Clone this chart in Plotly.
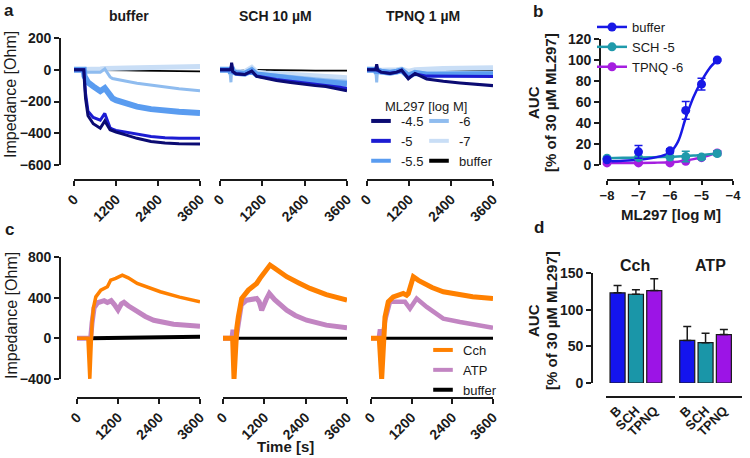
import plotly.graph_objects as go

W, H = 750, 458
FONT = "Liberation Sans, Arial, Helvetica, sans-serif"
INK = "#1a1a1a"


def px(x):
    return x / W


def py(y):
    return 1 - y / H


# ---------------- panel a : impedance traces (ML297 concentrations) ----------------
A_LEVELS = ["-4.5", "-5", "-5.5", "-6", "-7", "buffer"]
A_COLORS = ["#0b0b72", "#1c1cd2", "#5a9cf0", "#8fbcef", "#c9def6", "#000000"]
A_WIDTHS = [3, 3, 6, 3, 5, 1.8]
A_TITLES = ["buffer", "SCH 10 µM", "TPNQ 1 µM"]

T_A1 = [0, 280, 300, 330, 400, 550, 750, 880, 1030, 1100, 1200, 1500, 1800, 2200, 2600, 3000, 3600]
A1_M45 = [0, 0, -80, -180, -290, -340, -368, -322, -378, -385, -392, -412, -432, -452, -462, -466, -468]
A1_M5 = [0, 0, -60, -150, -262, -300, -318, -275, -365, -375, -382, -392, -405, -420, -428, -432, -432]
A1_M55 = [0, 0, -40, -60, -80, -105, -135, -115, -170, -180, -192, -215, -232, -248, -258, -265, -272]
A1_M6 = [0, 0, -5, -10, -15, -15, -15, 5, -45, -55, -60, -72, -85, -98, -110, -120, -132]
A1_M7 = [0, 0, 2, 3, 3, 4, 5, 8, 6, 8, 9, 11, 13, 15, 17, 18, 20]
A1_BUF = [0, 0, 0, 0, -1, -1, -2, -2, -2, -3, -3, -4, -5, -6, -7, -8, -10]

T_A2 = [0, 280, 310, 330, 360, 450, 700, 900, 1040, 1300, 1600, 2000, 2300, 2700, 3000, 3400, 3600]
A2_M45 = [0, 0, 5, 45, -10, -25, -30, -8, -42, -55, -68, -80, -90, -100, -106, -122, -132]
A2_M5 = [0, 0, 5, 35, -12, -25, -30, -10, -40, -50, -62, -72, -80, -90, -96, -110, -118]
A2_M55 = [0, 0, -20, 15, -10, -20, -25, -5, -30, -38, -45, -55, -63, -72, -78, -86, -90]
A2_M6 = [0, 0, -79, 10, -8, -15, -18, 10, -22, -28, -35, -43, -50, -58, -63, -70, -73]
A2_M7 = [0, 0, -30, 5, -5, -10, -12, 15, -15, -20, -25, -30, -35, -40, -44, -48, -50]
A2_BUF = [0, 0, 0, 0, 0, -2, -3, -3, -3, -3, -4, -4, -4, -5, -5, -5, -5]

T_A3 = [0, 250, 277, 300, 400, 657, 850, 990, 1180, 1371, 1705, 2181, 2657, 3133, 3600]
A3_M45 = [0, 0, 35, 0, -15, -23, -15, -2, -58, -23, -58, -73, -83, -90, -100]
A3_M5 = [0, 0, 25, -5, -15, -22, -15, -5, -50, -25, -40, -40, -42, -42, -42]
A3_M55 = [0, 0, -20, -5, -12, -18, -12, -3, -40, -20, -32, -32, -32, -31, -30]
A3_M6 = [0, 0, -79, -3, -8, -12, -8, 0, -25, -12, -20, -18, -17, -16, -15]
A3_M7 = [0, 0, -30, 0, -3, -5, 0, 5, -10, 0, 5, 8, 10, 10, 12]
A3_BUF = [0, 0, 0, 0, 0, -2, -2, -2, -3, -3, -3, -4, -4, -4, -4]

# ---------------- panel c : Cch / ATP / buffer traces ----------------
C_LEVELS = ["Cch", "ATP", "buffer"]
C_COLORS = ["#ff8000", "#c285c2", "#000000"]

T_C1_CCH = [0, 320, 375, 405, 440, 480, 551, 697, 890, 987, 1132, 1326, 1500, 1762, 2100, 2438, 3000, 3600]
C1_CCH = [0, 0, -398, -100, 150, 300, 408, 474, 507, 573, 590, 622, 595, 540, 495, 458, 405, 359]
T_C1_ATP = [0, 400, 440, 500, 600, 648, 794, 890, 1000, 1100, 1200, 1300, 1374, 1500, 1762, 2000, 2245, 2826, 3600]
C1_ATP = [0, 0, 150, 300, 350, 355, 370, 352, 370, 330, 280, 340, 355, 320, 260, 215, 178, 138, 119]
T_C1_BUF = [380, 1200, 2400, 3600]
C1_BUF = [0, 3, 8, 15]

T_C2_CCH = [0, 280, 320, 350, 400, 445, 542, 736, 977, 1074, 1200, 1365, 1500, 1849, 2200, 2526, 3000, 3600]
C2_CCH = [0, 0, -398, -150, 100, 210, 392, 474, 540, 590, 650, 721, 690, 606, 545, 491, 430, 375]
T_C2_ATP = [0, 260, 290, 320, 380, 445, 530, 687, 977, 1050, 1123, 1250, 1345, 1500, 1849, 2100, 2429, 3000, 3600]
C2_ATP = [0, 0, 83, 0, 0, 150, 330, 375, 392, 360, 277, 380, 441, 380, 277, 225, 178, 130, 105]
T_C2_BUF = [380, 3600]
C2_BUF = [0, 0]

T_C3_CCH = [0, 245, 315, 350, 413, 510, 658, 953, 1052, 1100, 1249, 1400, 1544, 1800, 2134, 2600, 3000, 3600]
C3_CCH = [0, 0, -398, -100, 210, 359, 408, 441, 425, 440, 606, 570, 540, 500, 458, 430, 410, 392]
T_C3_ATP = [0, 230, 265, 300, 340, 420, 560, 1003, 1150, 1347, 1642, 2134, 2626, 3100, 3600]
C3_ATP = [0, 0, 90, 0, 0, 180, 359, 359, 293, 392, 309, 194, 161, 130, 105]
T_C3_BUF = [380, 3600]
C3_BUF = [0, 0]

# ---------------- panel b : concentration-response ----------------
B_X = [-8, -7, -6, -5.5, -5, -4.5]
B_BUF = [5, 12.5, 13.5, 52, 77, 100]
B_BUF_ERR = [1, 6, 2, 8.5, 5.5, 1]
B_SCH = [6.5, 7, 7.5, 8, 7.5, 11]
B_SCH_ERR = [1, 1, 1, 5, 2, 2]
B_TPNQ = [2, 2, 2, 3.5, 7, 11.5]
B_TPNQ_ERR = [0.5, 1, 1, 1, 1, 2]
B_FIT_X = [-8, -7.5, -7, -6.5, -6, -5.75, -5.5, -5.25, -5, -4.75, -4.5]
B_BUF_FIT = [3.5, 4, 5, 7, 12, 22, 45, 65, 80, 92, 100]
B_SCH_FIT = [6.5, 6.8, 7.1, 7.4, 7.8, 8.1, 8.5, 9, 9.5, 10.2, 11]
B_TPNQ_FIT = [2, 2, 2, 2.2, 2.6, 3.2, 4.2, 5.6, 7.3, 9.3, 11.5]
B_NAMES = ["buffer", "SCH -5", "TPNQ -6"]
B_COLORS = ["#1818e6", "#1f9aab", "#a51ee0"]

# ---------------- panel d : AUC bars ----------------
D_LABELS = ["B", "SCH", "TPNQ"]
D_COLORS = ["#1414ee", "#1a96a8", "#9c14e6"]
D_CCH = [123, 121, 126]
D_CCH_ERR = [10, 6, 16]
D_ATP = [58, 55, 66]
D_ATP_ERR = [19, 13, 7]

fig = go.Figure()
layout = {}


def ax(**kw):
    base = dict(showline=True, linewidth=1.6, linecolor=INK, ticks="outside", ticklen=5,
                tickwidth=1.6, tickcolor=INK, showgrid=False, zeroline=False,
                tickfont=dict(family=FONT, size=14, color=INK, weight="bold"),
                anchor="free", fixedrange=True, automargin=False)
    base.update(kw)
    return base


def axname(prefix, i):
    return prefix + "axis" + ("" if i == 1 else str(i))


def ref(prefix, i):
    return prefix + ("" if i == 1 else str(i))


# panel a axes and traces
A_XDOM = [(74, 200), (220, 347), (367, 493)]
A_DATA = [
    (T_A1, [A1_M45, A1_M5, A1_M55, A1_M6, A1_M7, A1_BUF]),
    (T_A2, [A2_M45, A2_M5, A2_M55, A2_M6, A2_M7, A2_BUF]),
    (T_A3, [A3_M45, A3_M5, A3_M55, A3_M6, A3_M7, A3_BUF]),
]
DRAW_ORDER_A = [5, 4, 3, 2, 1, 0]
for k in range(3):
    i = k + 1
    x0, x1 = A_XDOM[k]
    layout[axname("x", i)] = ax(domain=[px(x0), px(x1)], range=[0, 3600], position=py(180),
                                tickvals=[0, 1200, 2400, 3600], tickangle=-45)
    layout[axname("y", i)] = ax(domain=[py(165), py(38)], range=[-600, 200], dtick=200,
                                position=px(60), visible=(k == 0))
    t, series = A_DATA[k]
    for j in DRAW_ORDER_A:
        fig.add_trace(go.Scatter(x=t, y=series[j], mode="lines",
                                 line=dict(color=A_COLORS[j], width=A_WIDTHS[j]),
                                 xaxis=ref("x", i), yaxis=ref("y", i), showlegend=False,
                                 hoverinfo="skip", cliponaxis=False))

# panel c axes and traces
C_XDOM = [(77, 200), (223, 347), (371, 493)]
C_DATA = [
    [(T_C1_BUF, C1_BUF), (T_C1_ATP, C1_ATP), (T_C1_CCH, C1_CCH)],
    [(T_C2_BUF, C2_BUF), (T_C2_ATP, C2_ATP), (T_C2_CCH, C2_CCH)],
    [(T_C3_BUF, C3_BUF), (T_C3_ATP, C3_ATP), (T_C3_CCH, C3_CCH)],
]
C_DRAW_COLORS = [C_COLORS[2], C_COLORS[1], C_COLORS[0]]
C_DRAW_WIDTHS = [[4, 5, 3.5], [3, 5, 5], [3, 4.5, 5]]
for k in range(3):
    i = k + 4
    x0, x1 = C_XDOM[k]
    layout[axname("x", i)] = ax(domain=[px(x0), px(x1)], range=[0, 3600], position=py(398),
                                tickvals=[0, 1200, 2400, 3600], tickangle=-45)
    layout[axname("y", i)] = ax(domain=[py(379), py(257)], range=[-400, 800], dtick=400,
                                position=px(60), visible=(k == 0))
    for j, (t, v) in enumerate(C_DATA[k]):
        fig.add_trace(go.Scatter(x=t, y=v, mode="lines",
                                 line=dict(color=C_DRAW_COLORS[j], width=C_DRAW_WIDTHS[k][j]),
                                 xaxis=ref("x", i), yaxis=ref("y", i), showlegend=False,
                                 hoverinfo="skip", cliponaxis=False))

# panel b
layout["xaxis7"] = ax(domain=[px(607), px(733)], range=[-8, -4], dtick=1, position=py(180), ticklen=4,
                      tickfont=dict(family=FONT, size=13, color=INK, weight="bold"))
layout["yaxis7"] = ax(domain=[py(165), py(39)], range=[0, 120], dtick=20, position=px(600))
B_VALS = [B_BUF, B_SCH, B_TPNQ]
B_ERRS = [B_BUF_ERR, B_SCH_ERR, B_TPNQ_ERR]
B_FITS = [B_BUF_FIT, B_SCH_FIT, B_TPNQ_FIT]
for j in [2, 1, 0]:
    fig.add_trace(go.Scatter(x=B_FIT_X, y=B_FITS[j], mode="lines", line=dict(color=B_COLORS[j], width=2.5, shape="spline"),
                             xaxis="x7", yaxis="y7", showlegend=False, hoverinfo="skip", cliponaxis=False))
for j in [2, 1, 0]:
    fig.add_trace(go.Scatter(x=B_X, y=B_VALS[j], mode="markers",
                             marker=dict(color=B_COLORS[j], size=9),
                             error_y=dict(type="data", array=B_ERRS[j], color=B_COLORS[j], thickness=1.5, width=4),
                             xaxis="x7", yaxis="y7", showlegend=False, hoverinfo="skip", cliponaxis=False))
for j in range(3):
    fig.add_trace(go.Scatter(x=[None], y=[None], mode="lines+markers", name=B_NAMES[j],
                             line=dict(color=B_COLORS[j], width=2.5), marker=dict(color=B_COLORS[j], size=9),
                             xaxis="x7", yaxis="y7", legend="legend"))

# panel d
layout["yaxis8"] = ax(domain=[py(383), py(273)], range=[0, 150], dtick=50, position=px(592))
layout["yaxis9"] = ax(domain=[py(383), py(273)], range=[0, 150], visible=False)
layout["xaxis8"] = ax(domain=[px(606), px(675)], type="category", range=[-0.63, 3.13], position=py(397),
                      ticks="", tickangle=-45, tickfont=dict(family=FONT, size=13, color=INK, weight="bold"))
layout["xaxis9"] = ax(domain=[px(679), px(742)], type="category", range=[-0.45, 2.99], position=py(397),
                      ticks="", tickangle=-45, tickfont=dict(family=FONT, size=13, color=INK, weight="bold"))
for (vals, errs, xa, ya) in [(D_CCH, D_CCH_ERR, "x8", "y8"), (D_ATP, D_ATP_ERR, "x9", "y9")]:
    fig.add_trace(go.Bar(x=D_LABELS, y=vals, width=0.82,
                         marker=dict(color=D_COLORS, line=dict(color=INK, width=1.2)),
                         error_y=dict(type="data", array=errs, arrayminus=[0, 0, 0], symmetric=False,
                                      color=INK, thickness=1.5, width=4),
                         xaxis=xa, yaxis=ya, showlegend=False, hoverinfo="skip"))

# legend entries (panels a and c)
for j in range(6):
    fig.add_trace(go.Scatter(x=[None], y=[None], mode="markers", name=A_LEVELS[j],
                             marker=dict(symbol="line-ew", size=14, color=A_COLORS[j],
                                         line=dict(color=A_COLORS[j], width=4)),
                             xaxis="x7", yaxis="y7", legend="legend2" if j < 3 else "legend3"))
for j in range(3):
    fig.add_trace(go.Scatter(x=[None], y=[None], mode="markers", name=C_LEVELS[j],
                             marker=dict(symbol="line-ew", size=14, color=C_COLORS[j],
                                         line=dict(color=C_COLORS[j], width=4)),
                             xaxis="x7", yaxis="y7", legend="legend4"))

leg_common = dict(xanchor="left", yanchor="top", bgcolor="rgba(0,0,0,0)", borderwidth=0,
                  font=dict(family=FONT, size=13, color=INK), tracegroupgap=0, itemclick=False,
                  itemdoubleclick=False)
layout["legend"] = dict(x=px(592), y=py(12), **leg_common)
layout["legend2"] = dict(x=px(361), y=py(106), **leg_common)
layout["legend3"] = dict(x=px(419), y=py(106), **leg_common)
layout["legend4"] = dict(x=px(423), y=py(335), **leg_common)


def label(text, x, y, size=14, bold=True, angle=0):
    return dict(text=text, x=px(x), y=py(y), xref="paper", yref="paper", showarrow=False,
                xanchor="center", yanchor="middle", textangle=angle,
                font=dict(family=FONT, size=size, color=INK, weight="bold" if bold else "normal"))


annotations = [
    label("a", 9, 10, 17), label("b", 538, 11, 17), label("c", 9, 230, 17), label("d", 539, 227, 17),
    label(A_TITLES[0], 129, 16, 14), label(A_TITLES[1], 275, 16, 14), label(A_TITLES[2], 423, 16, 14),
    label("Impedance [Ohm]", 11, 95, 16, bold=False, angle=-90),
    label("Impedance [Ohm]", 11, 316, 16, bold=False, angle=-90),
    label("Time [s]", 285, 446, 15),
    label("ML297 [log M]", 671, 214, 15),
    label("AUC", 533, 103, 15, angle=-90),
    label("[% of 30 µM ML297]", 550, 103, 15, angle=-90),
    label("AUC", 533, 321, 15, angle=-90),
    label("[% of 30 µM ML297]", 551, 321, 15, angle=-90),
    label("Cch", 635, 265, 16), label("ATP", 710, 265, 16),
    label("ML297 [log M]", 426, 106, 13, bold=False),
]

fig.update_layout(width=W, height=H, margin=dict(l=0, r=0, t=0, b=0, autoexpand=False),
                  paper_bgcolor="white", plot_bgcolor="white", showlegend=True,
                  annotations=annotations, font=dict(family=FONT, color=INK), **layout)
fig.write_html("out.html", config={"displayModeBar": False},
               post_script="document.body.style.margin='0px';document.body.style.overflow='hidden';")
